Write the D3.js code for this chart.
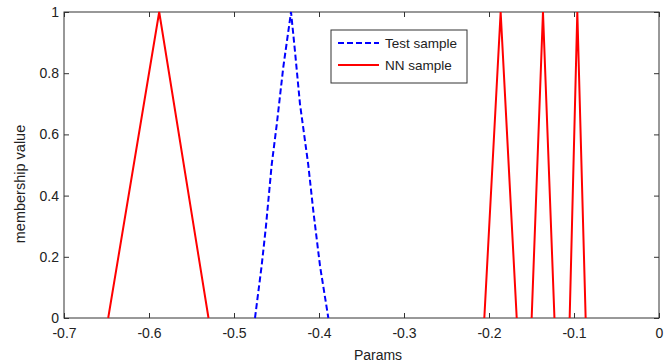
<!DOCTYPE html>
<html>
<head>
<meta charset="utf-8">
<script src="https://cdn.jsdelivr.net/npm/d3@7"></script>
<style>
  html, body { margin: 0; padding: 0; background: #fff; }
  svg { display: block; font-family: "Liberation Sans", Arial, sans-serif; }
</style>
</head>
<body>
<svg id="chart" width="672" height="363"></svg>
<script>
// membership functions (x = param value, y = membership)
const testSample = [
  [-0.4753, 0], [-0.4675, 0.17], [-0.4624, 0.30], [-0.4557, 0.50],
  [-0.4498, 0.63], [-0.4420, 0.82], [-0.4329, 1],
  [-0.4282, 0.87], [-0.4224, 0.70], [-0.4126, 0.50],
  [-0.4067, 0.35], [-0.3988, 0.17], [-0.3890, 0]
];
const nnSamples = [
  [[-0.648, 0], [-0.588, 1], [-0.530, 0]],
  [[-0.2055, 0], [-0.1863, 1], [-0.1674, 0]],
  [[-0.1498, 0], [-0.1365, 1], [-0.1230, 0]],
  [[-0.1051, 0], [-0.0961, 1], [-0.0863, 0]]
];
const xTicks = [-0.7, -0.6, -0.5, -0.4, -0.3, -0.2, -0.1, 0];
const yTicks = [0, 0.2, 0.4, 0.6, 0.8, 1];
const legendItems = ["Test sample", "NN sample"];

const svg = d3.select("#chart");
const plotL = 64, plotR = 659, plotT = 12, plotB = 318;

const x = d3.scaleLinear().domain([-0.7, 0]).range([plotL, plotR]);
const y = d3.scaleLinear().domain([0, 1]).range([plotB, plotT]);

const fmt = d => d === 0 ? "0" : d === 1 ? "1" : String(+d.toFixed(1));

// axes: ticks inward on all four sides
const axisColor = "#333";
function styleAxis(g) {
  g.select(".domain").remove();
  g.selectAll("line").attr("stroke", axisColor);
  g.selectAll("text").attr("fill", "#222").style("font-size", "14px");
}
svg.append("g").attr("transform", `translate(0,${plotB})`)
  .call(d3.axisBottom(x).tickValues(xTicks).tickSizeInner(-5).tickSizeOuter(0).tickPadding(10).tickFormat(fmt))
  .call(styleAxis);
svg.append("g").attr("transform", `translate(0,${plotT})`)
  .call(d3.axisTop(x).tickValues(xTicks).tickSizeInner(-5).tickSizeOuter(0).tickFormat(""))
  .call(styleAxis);
svg.append("g").attr("transform", `translate(${plotL},0)`)
  .call(d3.axisLeft(y).tickValues(yTicks).tickSizeInner(-5).tickSizeOuter(0).tickPadding(5).tickFormat(fmt))
  .call(styleAxis);
svg.append("g").attr("transform", `translate(${plotR},0)`)
  .call(d3.axisRight(y).tickValues(yTicks).tickSizeInner(-5).tickSizeOuter(0).tickFormat(""))
  .call(styleAxis);

svg.append("rect")
  .attr("x", plotL).attr("y", plotT)
  .attr("width", plotR - plotL).attr("height", plotB - plotT)
  .attr("fill", "none").attr("stroke", axisColor).attr("stroke-width", 1);

const line = d3.line().x(d => x(d[0])).y(d => y(d[1]));

svg.append("g").selectAll("path").data(nnSamples).join("path")
  .attr("d", line)
  .attr("fill", "none").attr("stroke", "#ff0000").attr("stroke-width", 2);

svg.append("path").datum(testSample)
  .attr("d", line)
  .attr("fill", "none").attr("stroke", "#0000ff").attr("stroke-width", 2)
  .attr("stroke-dasharray", "6,3");

// axis labels (positioned as in the original figure)
svg.append("text")
  .attr("x", 378).attr("y", 360)
  .attr("text-anchor", "middle").attr("fill", "#222").style("font-size", "14px")
  .text("Params");
svg.append("text")
  .attr("transform", "translate(25,184) rotate(-90)")
  .attr("text-anchor", "middle").attr("fill", "#222").style("font-size", "14.5px")
  .text("membership value");

// legend
const lg = svg.append("g").attr("transform", "translate(331,30)");
lg.append("rect").attr("width", 136).attr("height", 53)
  .attr("fill", "#fff").attr("stroke", "#333");
const legendStyles = [
  { color: "#0000ff", dash: "6,3" },
  { color: "#ff0000", dash: null }
];
legendItems.forEach((label, i) => {
  const yy = 13 + i * 22;
  lg.append("line").attr("x1", 7).attr("x2", 48).attr("y1", yy).attr("y2", yy)
    .attr("stroke", legendStyles[i].color).attr("stroke-width", 2)
    .attr("stroke-dasharray", legendStyles[i].dash);
  lg.append("text").attr("x", 54).attr("y", yy + 5)
    .attr("fill", "#222").style("font-size", "13.5px").text(label);
});
</script>
</body>
</html>
